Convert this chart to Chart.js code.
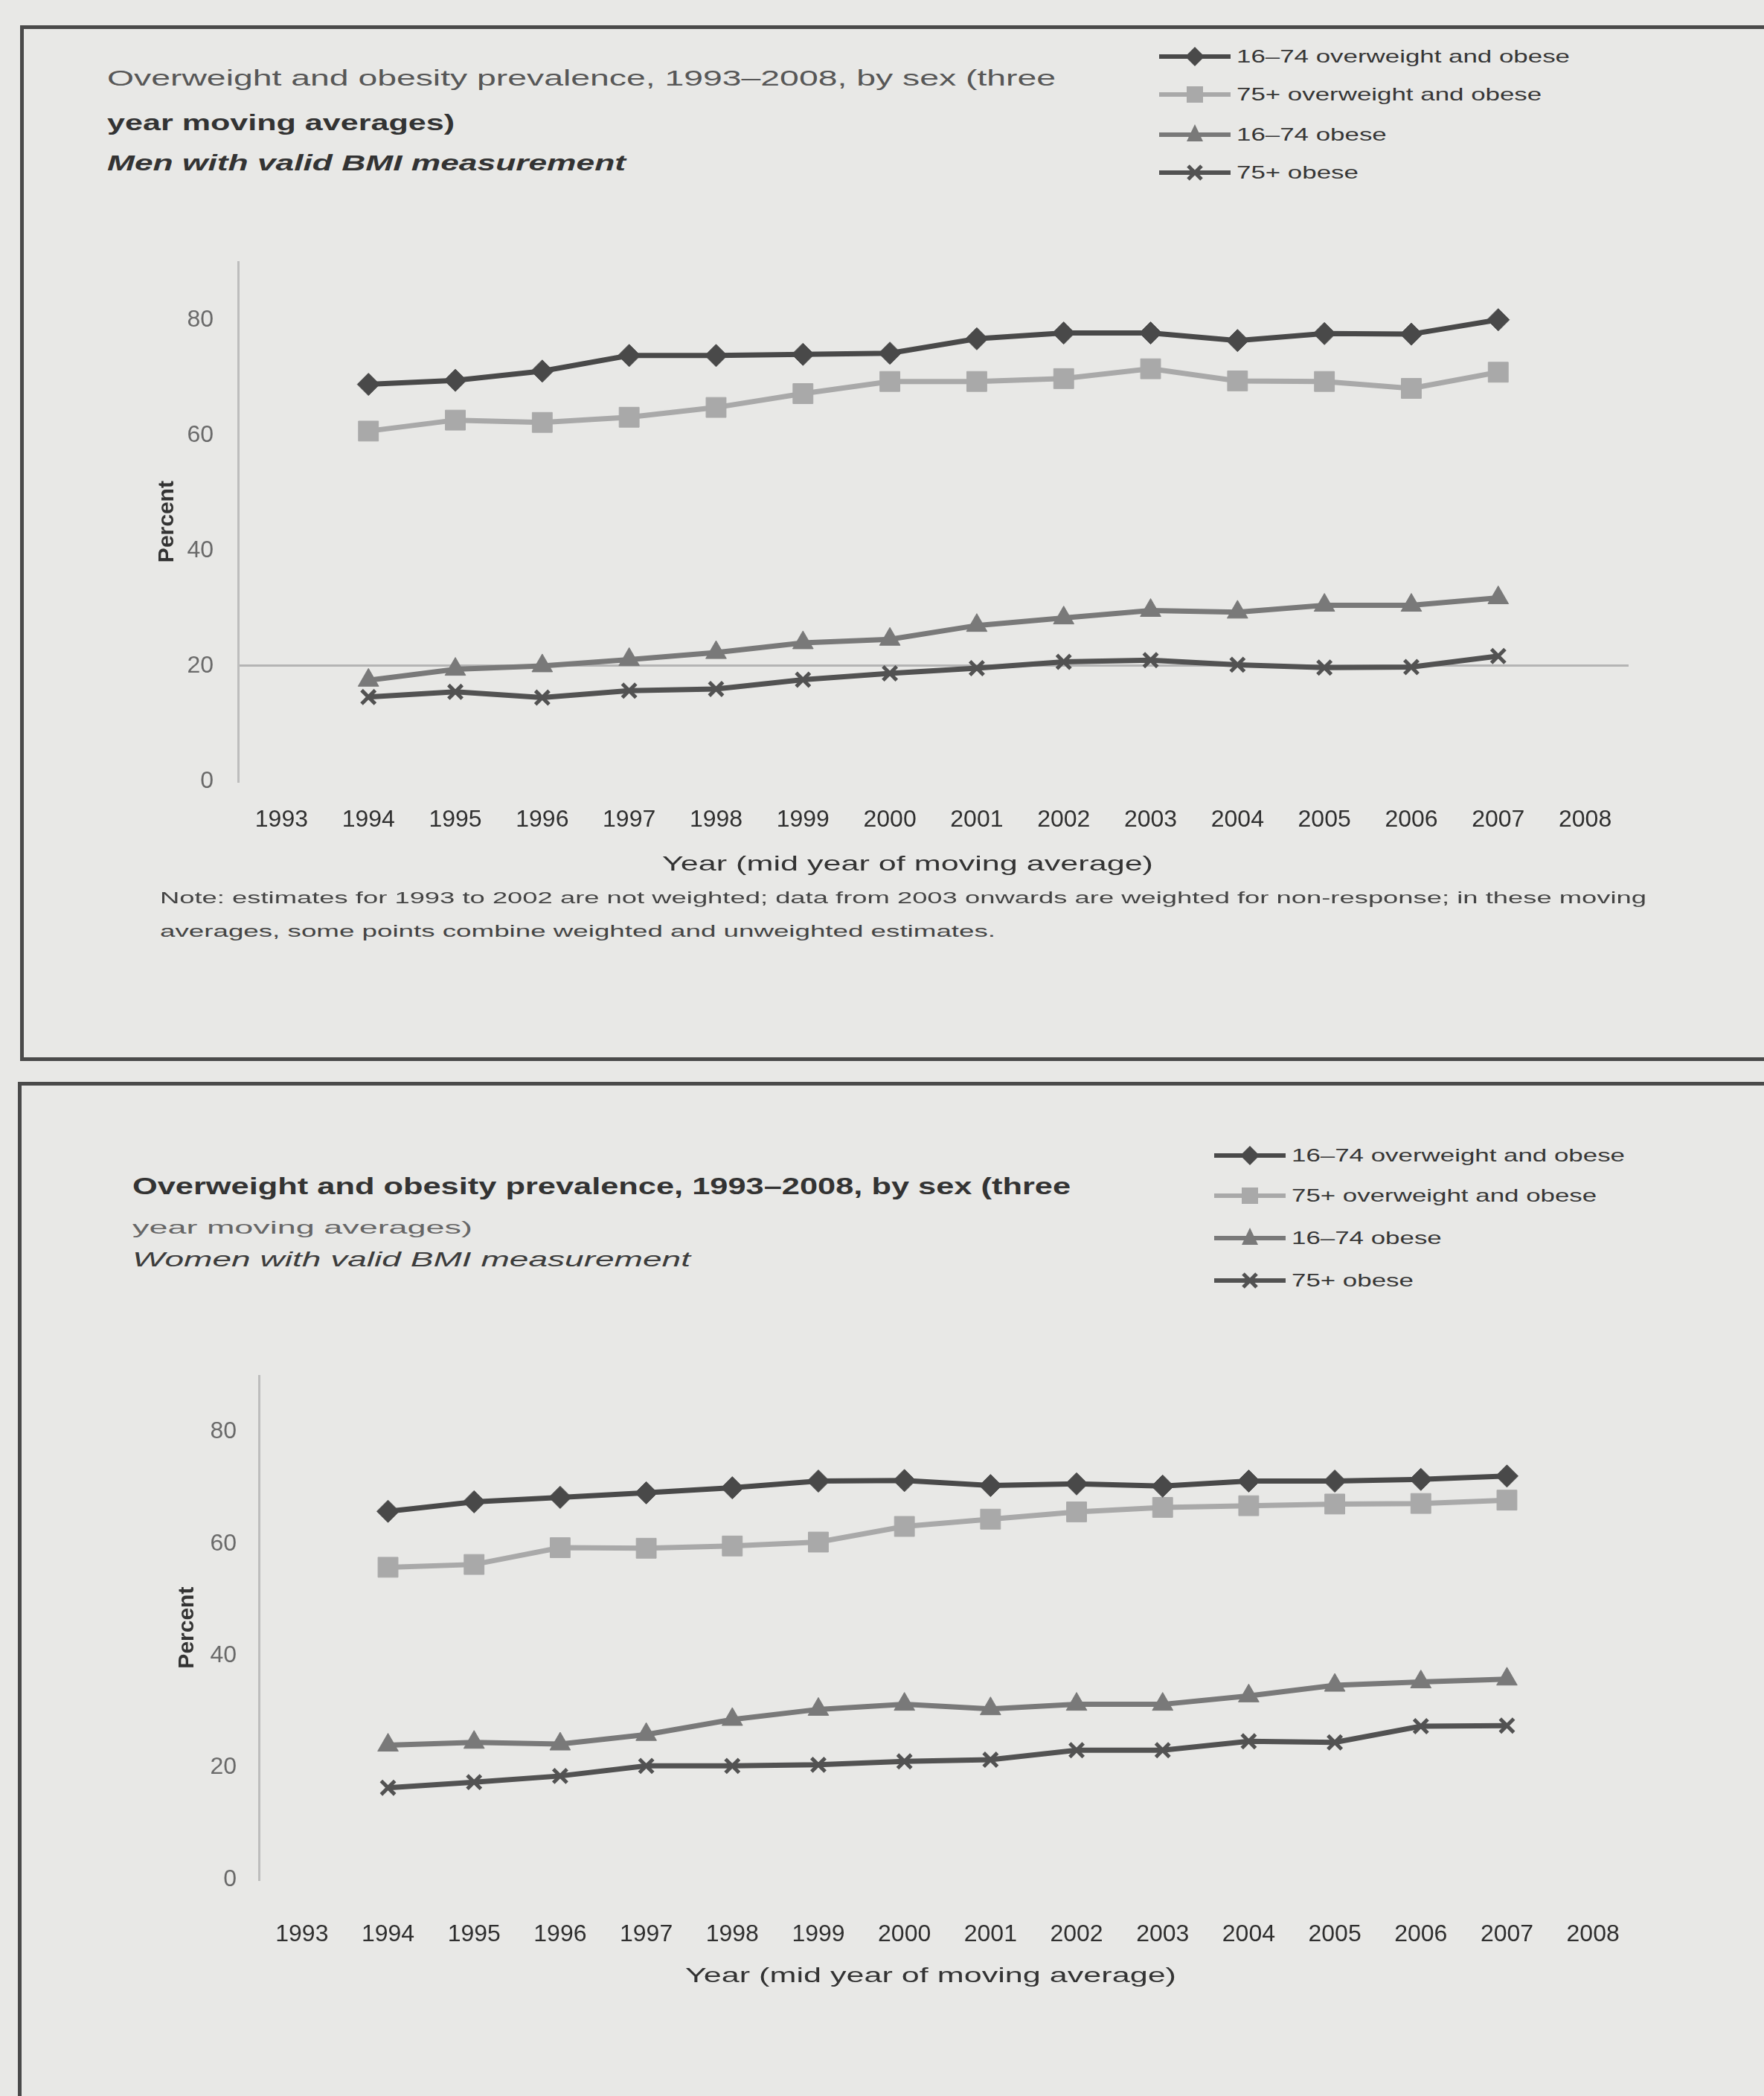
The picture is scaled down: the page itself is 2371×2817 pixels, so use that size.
<!DOCTYPE html>
<html lang="en">
<head>
<meta charset="utf-8">
<title>Overweight and obesity prevalence by sex</title>
<script src="https://cdn.jsdelivr.net/npm/chart.js@4.4.1/dist/chart.umd.min.js"></script>
<style>
  html, body { margin: 0; padding: 0; }
  body {
    width: 2371px; height: 2817px; overflow: hidden; position: relative;
    background: #e8e8e6;
    font-family: "Liberation Sans", Arial, sans-serif;
  }
  .frame { position: absolute; box-sizing: border-box; border: 5px solid #4a4a4a; }
  .plot { position: absolute; left: 0; }
  .txt { position: absolute; white-space: nowrap; line-height: 1; transform-origin: 0 50%; }
  .legend-row { position: absolute; height: 40px; display: flex; align-items: center; }
  .legend-row svg { flex: none; }
  .legend-row span {
    display: inline-block; white-space: nowrap; line-height: 1; transform-origin: 0 50%;
    margin-left: 8px; font-size: 24px; color: #363636;
  }
</style>
</head>
<body>

<div class="frame" style="left:27px; top:34px; width:2420px; height:1392px;"></div>
<div class="frame" style="left:24px; top:1454px; width:2420px; height:1450px;"></div>

<!-- Men panel -->
<div class="txt" data-w="1275" style="left:144px; top:90px; font-size:30px; color:#575757;">Overweight and obesity prevalence, 1993–2008, by sex (three</div>
<div class="txt" data-w="467" style="left:144px; top:150px; font-size:30px; font-weight:bold; color:#333;">year moving averages)</div>
<div class="txt" data-w="697" style="left:144px; top:204px; font-size:30px; font-weight:bold; font-style:italic; color:#333;">Men with valid BMI measurement</div>
<div id="legend-men"></div>
<canvas id="men" class="plot" width="2371" height="900" style="top:300px;"></canvas>
<div class="txt" data-w="660" style="left:890px; top:1147px; font-size:28px; color:#333;">Year (mid year of moving average)</div>
<div class="txt" data-w="1998" style="left:215px; top:1196px; font-size:22px; color:#444;">Note: estimates for 1993 to 2002 are not weighted; data from 2003 onwards are weighted for non-response; in these moving</div>
<div class="txt" data-w="1123" style="left:215px; top:1241px; font-size:22px; color:#444;">averages, some points combine weighted and unweighted estimates.</div>

<!-- Women panel -->
<div class="txt" data-w="1261" style="left:178px; top:1578px; font-size:32px; font-weight:bold; color:#333;">Overweight and obesity prevalence, 1993–2008, by sex (three</div>
<div class="txt" data-w="457" style="left:178px; top:1638px; font-size:24px; color:#666;">year moving averages)</div>
<div class="txt" data-w="750" style="left:178px; top:1679px; font-size:28px; font-style:italic; color:#3c3c3c;">Women with valid BMI measurement</div>
<div id="legend-women"></div>
<canvas id="women" class="plot" width="2371" height="900" style="top:1800px;"></canvas>
<div class="txt" data-w="660" style="left:921px; top:2641px; font-size:28px; color:#333;">Year (mid year of moving average)</div>

<script>
// Mid years of the three-year moving averages
const YEARS = ['1993', '1994', '1995', '1996', '1997', '1998', '1999', '2000',
               '2001', '2002', '2003', '2004', '2005', '2006', '2007', '2008'];

const SERIES_LABELS = [
  '16–74 overweight and obese',
  '75+ overweight and obese',
  '16–74 obese',
  '75+ obese'
];

// Men, percent
const menOverweight16to74 = [null, 68.8, 69.5, 71.1, 73.8, 73.8, 74.0, 74.2, 76.7, 77.7, 77.7, 76.4, 77.6, 77.5, 80.0, null];
const menOverweight75plus = [null, 60.7, 62.6, 62.2, 63.1, 64.8, 67.2, 69.3, 69.3, 69.8, 71.5, 69.4, 69.3, 68.1, 70.9, null];
const menObese16to74      = [null, 17.5, 19.4, 20.0, 21.1, 22.3, 24.0, 24.6, 27.0, 28.3, 29.6, 29.3, 30.5, 30.5, 31.8, null];
const menObese75plus      = [null, 14.6, 15.5, 14.5, 15.7, 16.0, 17.6, 18.7, 19.6, 20.7, 21.0, 20.2, 19.7, 19.8, 21.7, null];

// Women, percent
const womenOverweight16to74 = [null, 65.8, 67.5, 68.3, 69.1, 70.0, 71.2, 71.3, 70.4, 70.7, 70.3, 71.2, 71.2, 71.5, 72.1, null];
const womenOverweight75plus = [null, 55.8, 56.3, 59.3, 59.2, 59.6, 60.3, 63.1, 64.4, 65.7, 66.5, 66.8, 67.1, 67.2, 67.8, null];
const womenObese16to74      = [null, 24.0, 24.5, 24.2, 25.9, 28.6, 30.4, 31.3, 30.5, 31.3, 31.3, 32.8, 34.7, 35.3, 35.8, null];
const womenObese75plus      = [null, 16.4, 17.4, 18.5, 20.3, 20.3, 20.5, 21.1, 21.4, 23.1, 23.1, 24.7, 24.5, 27.4, 27.5, null];

const Y_TICK_STEP = 20;
const Y_MAX = 90;

// Line and marker appearance per series
const SERIES_STYLE = [
  { color: '#494949', pointStyle: 'rectRot',  radius: 15, width: 7 },
  { color: '#a9a9a9', pointStyle: 'rect',     radius: 19, width: 7 },
  { color: '#797979', pointStyle: 'triangle', radius: 16, width: 7 },
  { color: '#525252', pointStyle: 'crossRot', radius: 13, width: 7 }
];

Chart.defaults.font.family = '"Liberation Sans", Arial, sans-serif';

function makeDatasets(seriesValues) {
  return seriesValues.map((values, i) => {
    const s = SERIES_STYLE[i];
    return {
      label: SERIES_LABELS[i],
      data: values,
      borderColor: s.color,
      backgroundColor: s.color,
      borderWidth: s.width,
      pointStyle: s.pointStyle,
      pointRadius: s.radius,
      pointBackgroundColor: s.color,
      pointBorderColor: s.color,
      pointBorderWidth: s.pointStyle === 'crossRot' ? 5 : 1,
      tension: 0,
      spanGaps: false
    };
  });
}

function buildChart(canvasId, seriesValues, frame) {
  return new Chart(document.getElementById(canvasId), {
    type: 'line',
    data: { labels: YEARS, datasets: makeDatasets(seriesValues) },
    options: {
      responsive: false,
      animation: false,
      devicePixelRatio: 1,
      events: [],
      layout: { padding: { top: frame.padTop, left: frame.padLeft, right: frame.padRight, bottom: 0 } },
      plugins: { legend: { display: false }, tooltip: { enabled: false }, title: { display: false } },
      scales: {
        x: {
          type: 'category',
          offset: true,
          grid: { display: false, drawTicks: false },
          border: { display: false },
          ticks: { color: '#2f2f2f', font: { size: 32 }, padding: frame.xTickPad, autoSkip: false, maxRotation: 0 },
          afterFit: scale => { scale.height = frame.xHeight; }
        },
        y: {
          min: 0,
          max: Y_MAX,
          ticks: { stepSize: Y_TICK_STEP, color: '#6a6a6a', font: { size: 32 }, padding: frame.yTickPad },
          afterBuildTicks: axis => { axis.ticks = axis.ticks.filter(t => t.value % Y_TICK_STEP === 0); },
          grid: {
            drawTicks: false,
            lineWidth: 3,
            color: ctx => (frame.refLine !== null && ctx.tick && ctx.tick.value === frame.refLine)
              ? '#b4b4b4' : 'rgba(0,0,0,0)'
          },
          border: { display: true, color: '#bdbdbd', width: 3 },
          title: {
            display: true, text: 'Percent', color: '#333',
            font: { size: 30, weight: 'bold' },
            padding: { top: frame.yTitlePad, bottom: 0 }
          },
          afterFit: scale => { scale.width = frame.yWidth; }
        }
      }
    }
  });
}

buildChart('men', [menOverweight16to74, menOverweight75plus, menObese16to74, menObese75plus], {
  padTop: 51, padLeft: 200, padRight: 182, yWidth: 120, xHeight: 150,
  xTickPad: 33, yTickPad: 33, yTitlePad: 7, refLine: 20
});

buildChart('women', [womenOverweight16to74, womenOverweight75plus, womenObese16to74, womenObese75plus], {
  padTop: 38, padLeft: 200, padRight: 172, yWidth: 148, xHeight: 174,
  xTickPad: 55, yTickPad: 30, yTitlePad: 34, refLine: null
});

// Legend swatches: line with the series marker in the middle
function swatch(style) {
  const w = 96, h = 40, cx = 48, cy = 20, c = style.color;
  let mark = '';
  if (style.pointStyle === 'rectRot') {
    mark = `<polygon points="${cx - 13},${cy} ${cx},${cy - 13} ${cx + 13},${cy} ${cx},${cy + 13}" fill="${c}"/>`;
  } else if (style.pointStyle === 'rect') {
    mark = `<rect x="${cx - 11}" y="${cy - 11}" width="22" height="22" fill="${c}"/>`;
  } else if (style.pointStyle === 'triangle') {
    mark = `<polygon points="${cx},${cy - 14} ${cx + 11},${cy + 9} ${cx - 11},${cy + 9}" fill="${c}"/>`;
  } else if (style.pointStyle === 'crossRot') {
    mark = `<path d="M${cx - 9} ${cy - 9}L${cx + 9} ${cy + 9}M${cx + 9} ${cy - 9}L${cx - 9} ${cy + 9}" stroke="${c}" stroke-width="5"/>`;
  }
  return `<svg width="${w}" height="${h}" viewBox="0 0 ${w} ${h}">` +
         `<line x1="0" y1="${cy}" x2="${w}" y2="${cy}" stroke="${c}" stroke-width="6"/>${mark}</svg>`;
}

function buildLegend(hostId, left, rowCenters, firstWidth) {
  const host = document.getElementById(hostId);
  const spans = [];
  SERIES_LABELS.forEach((label, i) => {
    const row = document.createElement('div');
    row.className = 'legend-row';
    row.style.left = left + 'px';
    row.style.top = (rowCenters[i] - 20) + 'px';
    row.innerHTML = swatch(SERIES_STYLE[i]);
    const span = document.createElement('span');
    span.textContent = label;
    row.appendChild(span);
    host.appendChild(row);
    spans.push(span);
  });
  return { spans, firstWidth };
}

const legends = [
  buildLegend('legend-men', 1558, [76, 127, 181, 232], 448),
  buildLegend('legend-women', 1632, [1553, 1607, 1664, 1721], 448)
];

function stretchText() {
  document.querySelectorAll('[data-w]').forEach(el => {
    el.style.transform = 'none';
    const natural = el.getBoundingClientRect().width;
    el.style.transform = `scaleX(${(+el.dataset.w / natural).toFixed(4)})`;
  });
  legends.forEach(lg => {
    lg.spans.forEach(s => { s.style.transform = 'none'; });
    const k = lg.firstWidth / lg.spans[0].getBoundingClientRect().width;
    lg.spans.forEach(s => { s.style.transform = `scaleX(${k.toFixed(4)})`; });
  });
}

stretchText();
if (document.fonts && document.fonts.ready) document.fonts.ready.then(stretchText);
</script>
</body>
</html>
